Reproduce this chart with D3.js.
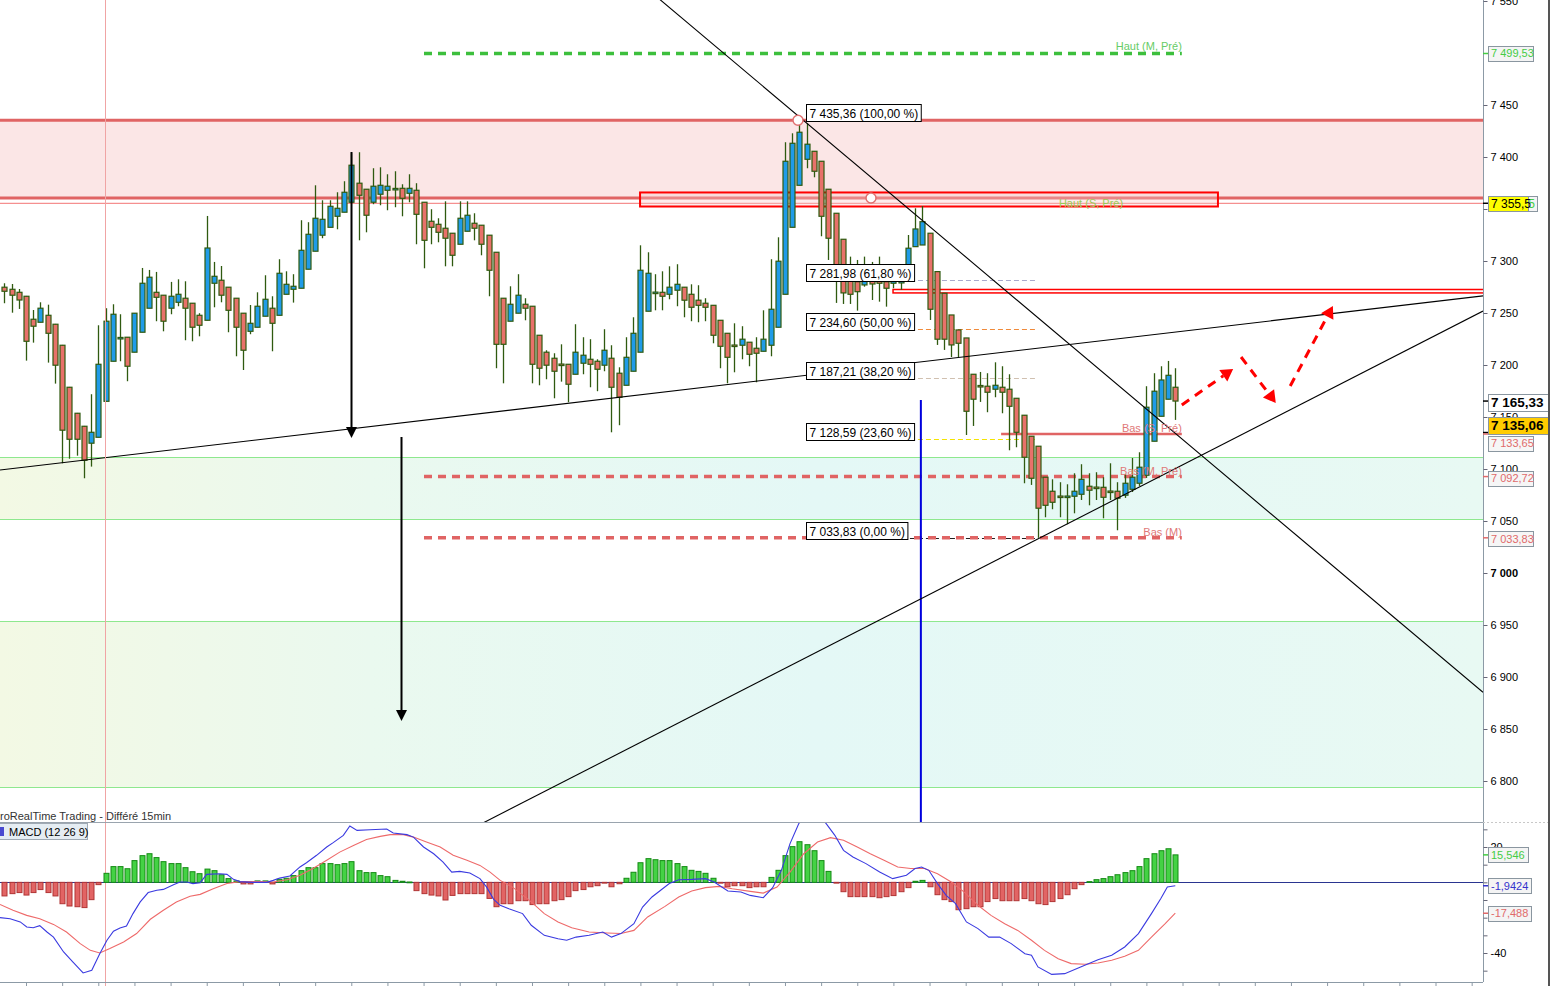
<!DOCTYPE html>
<html><head><meta charset="utf-8">
<script src="https://cdn.jsdelivr.net/npm/d3@7"></script>
<style>
body{margin:0;background:#fff;}
svg{display:block;font-family:Arial,"Liberation Sans",sans-serif;}
</style>
</head><body>
<svg id="chart" width="1550" height="986"></svg>
<script>
// ---------------- DATA ----------------
const candleOpen = [
7274.8,7272.8,7269.9,7266.1,7244.0,7241.1,7247.8,7239.2,7219.0,7178.6,
7153.6,7141.1,7124.8,7130.5,7165.1,7203.6,7226.0,7226.7,7212.3,7231.5,
7254.6,7269.9,7267.1,7254.6,7260.3,7264.2,7259.4,7247.8,7243.0,7278.6,
7281.5,7274.8,7264.2,7249.8,7232.4,7236.3,7246.9,7254.6,7247.8,7268.0,
7272.8,7273.8,7292.1,7309.4,7324.8,7332.4,7343.0,7346.9,7356.5,7374.8,
7369.0,7356.5,7364.2,7368.0,7369.6,7369.9,7365.1,7368.0,7356.5,7338.2,
7335.3,7331.5,7326.7,7316.1,7328.6,7336.3,7334.4,7324.8,7308.4,7264.2,
7242.1,7249.8,7258.4,7256.5,7228.6,7212.3,7206.5,7200.9,7200.7,7191.1,
7201.7,7205.5,7203.6,7199.8,7206.5,7192.1,7180.5,7194.0,7212.3,7251.7,
7269.7,7269.9,7268.0,7271.9,7274.8,7268.0,7262.3,7259.4,7257.4,7243.0,
7230.5,7219.2,7219.0,7221.9,7216.1,7213.2,7219.0,7236.3,7268.0,7332.4,
7372.8,7397.8,7405.5,7395.9,7369.0,7345.9,7320.9,7281.8,7280.1,7277.0,
7281.8,7281.8,7280.1,7278.6,7278.9,7284.9,7313.8,7315.4,7326.7,7289.8,
7269.0,7248.1,7233.7,7226.0,7191.1,7180.3,7179.6,7176.7,7178.6,7176.7,
7168.0,7151.7,7131.5,7121.9,7092.1,7078.6,7074.0,7073.6,7073.8,7075.7,
7083.4,7082.6,7082.4,7078.8,7078.6,7074.8,7080.5,7086.3,7094.0,7126.7,
7150.7,7167.1,7178.6];
const candleHigh = [
7278.6,7277.9,7273.1,7266.4,7252.9,7260.3,7258.0,7239.5,7219.3,7178.9,
7153.9,7141.4,7171.9,7238.2,7254.6,7258.4,7248.8,7226.7,7249.8,7293.3,
7291.4,7289.5,7267.1,7279.9,7282.4,7280.5,7259.4,7249.8,7343.3,7299.1,
7295.2,7274.8,7264.2,7249.8,7257.7,7269.9,7286.3,7266.1,7301.7,7290.1,
7287.3,7339.2,7337.3,7372.8,7358.4,7358.4,7366.1,7376.7,7403.6,7404.6,
7369.0,7389.2,7390.1,7383.4,7386.3,7373.8,7383.4,7374.8,7356.5,7349.8,
7341.1,7357.4,7326.7,7357.4,7357.4,7345.9,7334.4,7324.8,7308.4,7264.2,
7275.7,7287.3,7264.2,7256.5,7228.6,7214.2,7211.3,7219.9,7200.7,7239.2,
7226.7,7224.8,7205.5,7234.4,7219.0,7197.8,7226.7,7245.9,7315.1,7308.4,
7287.3,7290.1,7294.9,7296.9,7274.8,7277.6,7276.7,7264.2,7257.4,7243.0,
7230.5,7240.1,7237.3,7221.9,7226.7,7252.6,7301.7,7322.8,7414.2,7422.8,
7435.36,7432.4,7405.5,7395.9,7369.0,7345.9,7320.9,7304.2,7301.0,7304.2,
7299.1,7304.2,7294.6,7294.6,7293.3,7325.0,7350.7,7352.9,7326.7,7289.8,
7269.0,7248.1,7233.7,7226.0,7191.1,7193.3,7192.1,7202.6,7198.8,7191.1,
7168.0,7151.7,7131.5,7121.9,7092.1,7090.1,7087.3,7085.3,7095.9,7104.6,
7095.9,7096.9,7092.1,7105.5,7087.3,7094.9,7110.6,7116.1,7179.6,7192.1,
7198.8,7203.9,7196.9];
const candleLow = [
7259.4,7250.3,7253.9,7204.2,7221.5,7241.1,7202.3,7182.1,7105.5,7109.9,
7112.8,7091.1,7102.3,7130.5,7165.1,7203.6,7203.6,7184.4,7212.3,7231.5,
7254.6,7242.1,7232.4,7248.8,7256.5,7223.8,7222.8,7227.6,7243.0,7255.5,
7260.3,7231.5,7208.4,7195.2,7229.6,7236.3,7246.9,7213.2,7247.8,7268.0,
7260.0,7273.8,7292.1,7309.4,7321.9,7332.4,7330.5,7346.9,7356.5,7319.9,
7327.6,7354.6,7353.6,7348.8,7351.7,7343.0,7356.5,7316.1,7293.0,7316.1,
7318.0,7294.9,7294.9,7316.1,7328.6,7319.9,7305.5,7266.1,7196.9,7182.4,
7242.1,7249.8,7243.0,7182.4,7180.5,7186.3,7168.0,7184.0,7164.2,7191.1,
7191.1,7178.6,7174.8,7194.0,7135.3,7142.1,7180.5,7194.0,7212.3,7251.7,
7252.6,7252.6,7263.2,7256.5,7245.9,7242.1,7241.1,7242.1,7220.9,7196.9,
7182.4,7193.0,7205.5,7198.8,7183.4,7213.2,7208.4,7236.3,7268.0,7332.4,
7372.8,7389.2,7380.5,7323.8,7301.0,7259.7,7258.7,7258.7,7252.3,7275.3,
7262.5,7260.9,7256.1,7273.8,7272.2,7284.9,7313.8,7315.4,7243.3,7219.3,
7214.5,7207.7,7207.7,7132.7,7141.4,7164.5,7154.6,7169.0,7153.6,7118.0,
7120.9,7086.3,7084.7,7033.83,7053.6,7061.3,7053.6,7046.9,7057.4,7070.2,
7065.1,7070.2,7052.6,7070.2,7041.1,7072.2,7077.9,7083.7,7091.4,7126.7,
7150.7,7167.1,7147.2];
const candleClose = [
7270.9,7267.1,7262.5,7222.8,7237.3,7254.6,7230.5,7199.8,7137.3,7128.6,
7128.6,7108.4,7135.3,7200.7,7242.1,7248.8,7226.5,7198.8,7249.8,7278.6,
7284.4,7265.1,7242.1,7266.1,7268.0,7254.6,7236.3,7238.2,7312.5,7285.3,
7267.1,7252.6,7236.3,7214.2,7240.1,7256.5,7263.2,7240.1,7288.2,7277.6,
7275.7,7310.3,7325.7,7341.1,7340.1,7352.6,7350.7,7366.1,7392.1,7363.2,
7344.0,7371.9,7372.8,7371.9,7369.8,7360.3,7369.9,7344.9,7319.9,7332.4,
7327.6,7321.9,7305.5,7341.1,7344.0,7331.5,7316.1,7291.1,7219.9,7219.9,
7258.4,7267.1,7254.6,7200.7,7196.9,7199.8,7194.0,7200.5,7181.5,7212.3,
7209.4,7200.7,7195.9,7214.2,7178.6,7169.0,7207.4,7230.5,7291.1,7288.2,
7270.1,7266.1,7274.8,7277.6,7262.3,7255.5,7257.4,7255.5,7228.6,7218.0,
7207.4,7218.8,7224.8,7210.3,7211.3,7224.8,7253.6,7299.8,7395.9,7413.2,
7423.8,7412.3,7386.3,7343.0,7321.9,7281.8,7269.3,7268.0,7270.5,7281.8,
7277.9,7278.6,7273.8,7281.8,7284.9,7312.3,7330.8,7337.8,7253.6,7224.8,
7224.8,7219.3,7220.9,7155.5,7167.1,7179.9,7173.8,7180.5,7173.8,7160.3,
7135.3,7111.3,7091.1,7062.3,7065.1,7068.0,7073.6,7074.0,7078.6,7090.1,
7079.6,7082.2,7072.8,7078.4,7071.9,7086.3,7092.1,7101.7,7159.4,7174.8,
7185.6,7190.1,7165.33];

const macdHist = [
-7.7,-6.4,-5.8,-7.2,-5.8,-4.1,-5.8,-7.7,-12.1,-13.4,-13.8,-14.3,-9.8,-1.3,
5.1,8.9,8.9,7.7,12.3,15.1,16.2,14.0,11.7,10.6,10.6,8.3,6.0,4.9,7.5,6.6,4.3,2.1,0.8,
-0.9,-0.9,0.8,0.8,-0.9,
1.7,2.3,3.8,6.6,8.3,8.3,10.6,10.6,10.0,10.6,11.7,6.6,5.5,5.5,3.8,3.2,1.1,0.6,0.2,
-4.7,-6.4,-7.2,-7.7,-10.0,-7.4,-6.4,-6.4,-6.4,-6.4,-9.1,-13.8,
-12.1,-12.1,-10.4,-10.4,-12.6,-12.1,-12.1,-10.4,-9.8,-8.1,-4.7,-4.1,-2.5,-1.9,-0.3,-2.5,-0.8,
2.3,5.7,11.1,13.4,12.8,12.3,12.3,10.6,8.9,6.8,6.2,5.1,2.3,
-0.3,
-2.5,-1.9,-1.9,-3.0,-2.5,-2.5,
2.8,6.8,15.1,20.2,23.0,21.3,17.9,12.3,6.2,
-0.3,
-5.3,-8.1,-8.1,-8.1,-8.1,-8.7,-8.1,-7.5,-5.3,-3.0,
0.6,1.1,
-2.5,-7.0,-9.8,-10.9,-15.5,-14.9,-13.8,-13.8,-10.9,-9.2,-10.4,-10.4,-10.4,-9.2,-10.4,-12.1,-12.6,-10.9,-9.2,-7.0,-3.6,-1.3,
0.4,1.5,2.1,3.2,4.3,5.5,6.6,8.9,13.4,16.2,17.9,19.0,15.546];

// MACD line [candle index, value]
const macdLine = [[-0.6,-20.0],[0.8,-20.6],[2.2,-22.4],[3.1,-25.3],[4.0,-25.7],[4.9,-24.5],[5.9,-28.1],[6.8,-31.0],[8.2,-39.4],[9.5,-45.1],[10.9,-51.3],[12.1,-49.8],[13.2,-40.4],[14.2,-32.8],[15.1,-27.7],[16.0,-25.8],[16.9,-24.7],[17.8,-17.7],[18.8,-11.1],[19.9,-5.8],[21.1,-4.5],[22.0,-4.0],[23.4,-1.3],[24.3,0.2],[25.2,0.2],[26.1,-0.7],[27.1,-0.2],[28.0,4.5],[29.8,4.9],[30.8,4.5],[31.7,1.7],[32.6,0.4],[34.4,0],[36.3,0],[37.2,1.1],[38.1,2.4],[39.5,3.6],[40.9,8.7],[41.8,11.1],[43.2,15.3],[44.6,20.0],[45.5,22.5],[46.9,26.6],[47.8,31.9],[48.8,29.4],[50.6,29.8],[52.9,30.2],[53.8,27.9],[55.7,27.0],[56.6,25.6],[58.0,20.0],[59.4,16.2],[60.7,11.5],[61.9,5.8],[63.0,6.2],[64.4,5.3],[65.8,2.1],[66.7,-2.6],[67.7,-9.6],[68.6,-13.0],[69.8,-14.9],[71.7,-17.7],[72.9,-24.3],[74.7,-30.0],[76.6,-31.9],[77.8,-32.8],[79.1,-31.0],[80.9,-30.0],[82.8,-28.1],[84.0,-31.0],[85.3,-29.0],[87.1,-23.4],[88.3,-14.0],[89.6,-8.3],[90.8,-4.5],[92.0,-0.7],[93.3,1.5],[95.1,1.7],[97.0,2.1],[98.2,0.2],[100.1,-4.9],[101.9,-5.5],[103.2,-7.4],[105.0,-8.7],[106.3,-3.0],[107.5,6.8],[108.7,21.9],[109.9,33.2],[111.0,39.0],[112.5,39.0],[113.7,33.2],[114.9,26.6],[116.1,18.1],[117.4,14.3],[119.2,10.6],[121.1,5.8],[122.9,2.1],[124.8,4.0],[126.0,7.8],[126.9,8.7],[127.9,6.8],[129.1,-0.7],[130.3,-7.4],[131.6,-12.1],[133.1,-22.4],[134.7,-26.2],[136.2,-31.0],[137.7,-31.0],[139.3,-34.7],[141.2,-40.4],[142.1,-41.3],[143.0,-47.9],[144.9,-52.1],[146.7,-51.7],[148.9,-47.9],[151.3,-43.8],[153.2,-41.3],[155.0,-36.6],[156.9,-29.0],[158.7,-17.7],[160.0,-9.2],[160.9,-2.6],[162,-1.9424]];
const signalLine = [[-0.6,-12.5],[1.2,-15.8],[3.1,-18.7],[4.9,-20.6],[6.8,-23.8],[8.6,-28.1],[10.5,-34.7],[11.9,-38.5],[13.2,-40.0],[14.6,-37.5],[16.5,-33.8],[18.3,-29.0],[20.2,-20.9],[22.0,-15.8],[23.8,-11.1],[25.7,-7.9],[27.1,-6.8],[28.9,-3.6],[30.8,-0.7],[32.6,0.4],[35.4,0.4],[37.2,0.2],[39.1,1.5],[40.9,4.0],[42.7,7.8],[44.6,12.5],[46.4,17.1],[48.3,20.9],[50.1,24.2],[52.0,26.0],[53.4,27.0],[55.2,27.0],[56.6,25.6],[58.4,22.8],[60.3,20.0],[62.1,15.3],[64.0,12.5],[65.8,9.6],[67.2,5.8],[68.6,1.1],[70.4,-3.0],[72.9,-11.1],[74.7,-17.7],[76.6,-22.4],[78.5,-25.7],[80.9,-28.1],[83.4,-28.7],[85.3,-29.0],[87.1,-27.2],[89.0,-19.6],[91.4,-13.6],[93.3,-8.3],[95.1,-4.9],[97.0,-3.0],[98.9,-2.3],[100.7,-3.6],[103.2,-5.1],[105.0,-6.1],[106.9,-2.7],[108.7,5.8],[110.6,16.2],[112.5,22.8],[114.3,25.3],[116.1,23.8],[118.0,20.0],[119.8,16.2],[121.7,12.5],[123.6,8.7],[125.4,7.8],[127.3,7.8],[129.1,4.9],[131.0,0.2],[132.8,-5.5],[134.7,-13.0],[136.5,-18.7],[138.4,-23.4],[140.2,-27.2],[142.1,-32.8],[143.9,-38.5],[145.8,-43.2],[147.6,-46.0],[149.5,-46.4],[151.3,-45.7],[153.2,-44.1],[155.0,-41.9],[156.9,-38.5],[158.7,-31.0],[160.6,-23.4],[162,-17.488]];

const priceTicks = [6800,6850,6900,6950,7000,7050,7100,7150,7200,7250,7300,7350,7400,7450,7500,7550];
const hiddenTickLabels = [7500,7350];
const macdTicks = [30,20,10,0,-10,-20,-30,-40,-50];
const macdTickLabels = [20,-40];

const fibValues = [7435.36,7281.98,7234.60,7187.21,7128.59,7033.83];
const fibPercents = [100,61.8,50,38.2,23.6,0];

const zoneResistance = [7360.6,7435.36];
const zoneSupport1 = [7052.0,7111.1];
const zoneSupport2 = [6794.3,6953.4];
const levelNames = ["Haut (M, Pré)","Haut (S, Pré)","Bas (S, Pré)","Bas (M, Pré)","Bas (M)"];
const levelValues = [7499.53,7355.5,7133.65,7092.72,7033.83];
const boxSP = [7352.4,7365.9];
const doubleLine = [7269.3,7272.6];

const priceTagValues = [7499.53,7355.5,7165.33,7135.06,7133.65,7092.72,7033.83];
const priceTagDigits = [2,1,2,2,2,2,2];
const macdTagValues = [15.546,-1.9424,-17.488];
const macdTagDigits = [3,4,3];

// trendlines: two anchor points [index, price]
const trendDown = [[110,7438.5],[162,7134.3]];
const trendSupport = [[11,7108.5],[162,7231.7]];
const trendRise = [[143,7032.8],[162,7100.4]];
// annotation arrows [index, from price, to price]
const blackArrows = [[48,7404.8,7129.9],[54.9,7130.8,6857.7]];
const scenarioArrows = [[[162.9,7161.6],[170.0,7196.2]],[[171.1,7207.7],[175.9,7163.5]],[[177.9,7179.8],[183.8,7256.8]]];
const markerPoints = [[109.8,7435.36],[119.9,7360.6]];

// ---------------- LAYOUT ----------------
const N = candleOpen.length;
const AX = 1483, MAIN_B = 822, MACD_B = 982;
const svg = d3.select("#chart");
const x = d3.scaleLinear().domain([0,162]).range([4.33,1175.3]);
const y = d3.scaleLinear().domain([7000,7550]).range([573,1]);
const ym = d3.scaleLinear().domain([-40,20]).range([953,847]);
const loc = d3.formatLocale({decimal:",",thousands:" ",grouping:[3],currency:["",""],minus:"-"});
const fmtP = d => loc.format(",."+d+"f");

const defs = svg.append("defs");
defs.append("clipPath").attr("id","cm").append("rect").attr("x",0).attr("y",0).attr("width",AX).attr("height",MAIN_B);
defs.append("clipPath").attr("id","cd").append("rect").attr("x",0).attr("y",MAIN_B+1).attr("width",AX).attr("height",MACD_B-MAIN_B-1);
const grad = defs.append("linearGradient").attr("id","cy").attr("x1","0").attr("x2","1").attr("y1","0").attr("y2","0");
[["0%","#f3f9e4"],["25%","#eaf9ef"],["55%","#e4f8f6"],["100%","#e8f9f3"]].forEach(s=>grad.append("stop").attr("offset",s[0]).attr("stop-color",s[1]));

svg.append("rect").attr("width",1550).attr("height",986).attr("fill","#fff");

const gm = svg.append("g").attr("clip-path","url(#cm)");

// zones
function zone(vals, fill){
  gm.append("rect").attr("x",0).attr("width",AX).attr("y",y(vals[1])).attr("height",y(vals[0])-y(vals[1])).attr("fill",fill);
}
zone(zoneResistance,"#fbe6e6");
zone(zoneSupport1,"url(#cy)");
zone(zoneSupport2,"url(#cy)");
[zoneSupport1,zoneSupport2].forEach(z=>z.forEach(v=>{
  gm.append("line").attr("x1",0).attr("x2",AX).attr("y1",Math.round(y(v))+0.5).attr("y2",Math.round(y(v))+0.5).attr("stroke","#8ee88e").attr("stroke-width",1);
}));
zoneResistance.forEach(v=>{
  gm.append("line").attr("x1",0).attr("x2",AX).attr("y1",y(v)).attr("y2",y(v)).attr("stroke","#e06464").attr("stroke-width",3);
});
gm.append("line").attr("x1",0).attr("x2",AX).attr("y1",y(levelValues[1])).attr("y2",y(levelValues[1])).attr("stroke","#f59090").attr("stroke-width",1.2);

// red box (S, Pré)
gm.append("rect").attr("x",x(87.95)).attr("width",x(167.9)-x(87.95)).attr("y",y(boxSP[1])).attr("height",y(boxSP[0])-y(boxSP[1]))
  .attr("fill","rgba(250,200,200,0.35)").attr("stroke","#ff0000").attr("stroke-width",2);

// fib dashed lines
const fibColors = [null,"#a9a9cc","#f08a3a","#d0c0b0","#f4e400","#222"];
fibValues.forEach((v,k)=>{
  if(!fibColors[k]) return;
  gm.append("line").attr("x1",x(110.9)).attr("x2",x(142.7)).attr("y1",Math.round(y(v))+0.5).attr("y2",Math.round(y(v))+0.5)
    .attr("stroke",fibColors[k]).attr("stroke-width",1).attr("stroke-dasharray","5,3");
});

// dashed level lines
function dashed(v,color,i0,i1){
  gm.append("line").attr("x1",x(i0)).attr("x2",x(i1)).attr("y1",y(v)).attr("y2",y(v))
    .attr("stroke",color).attr("stroke-width",3.5).attr("stroke-dasharray","8,6");
}
dashed(levelValues[0],"#3dbf3d",58.06,162.9);
dashed(levelValues[3],"#e06464",58.06,162.9);
dashed(levelValues[4],"#e06464",58.06,162.9);
gm.append("line").attr("x1",x(137.9)).attr("x2",x(162.9)).attr("y1",y(levelValues[2])).attr("y2",y(levelValues[2])).attr("stroke","#e06464").attr("stroke-width",2.5);

// double red line
gm.append("rect").attr("x",x(122.95)).attr("width",AX-x(122.95)+2).attr("y",y(doubleLine[1])).attr("height",y(doubleLine[0])-y(doubleLine[1]))
  .attr("fill","#fff").attr("stroke","#ff0000").attr("stroke-width",1.5);

// vertical lines
svg.append("line").attr("x1",105.5).attr("x2",105.5).attr("y1",0).attr("y2",986).attr("stroke","#f0a4a4").attr("stroke-width",1);
gm.append("line").attr("x1",x(126.8)).attr("x2",x(126.8)).attr("y1",y(7166.4)).attr("y2",MAIN_B).attr("stroke","#0000dd").attr("stroke-width",2);

// candles
const candles = d3.range(N).map(i=>({i,o:candleOpen[i],h:candleHigh[i],l:candleLow[i],c:candleClose[i]}));
const gc = gm.append("g");
gc.selectAll("line").data(candles).join("line")
  .attr("x1",d=>Math.round(x(d.i))+0.5).attr("x2",d=>Math.round(x(d.i))+0.5)
  .attr("y1",d=>y(d.h)).attr("y2",d=>y(d.l)).attr("stroke","#2f5a10").attr("stroke-width",1.3);
gc.selectAll("rect").data(candles).join("rect")
  .attr("x",d=>Math.round(x(d.i))-2).attr("width",5)
  .attr("y",d=>y(Math.max(d.o,d.c))).attr("height",d=>Math.max(1.5,Math.abs(y(d.o)-y(d.c))))
  .attr("fill",d=>d.c>=d.o?"#1f9be8":"#e8716a").attr("stroke","#2f5a10").attr("stroke-width",1.2);

// trendlines
function trend(a){
  const x1=x(a[0][0]),y1=y(a[0][1]),x2=x(a[1][0]),y2=y(a[1][1]);
  const s=(y2-y1)/(x2-x1);
  gm.append("line").attr("x1",0).attr("y1",y1-s*x1).attr("x2",AX).attr("y2",y1+s*(AX-x1)).attr("stroke","#000").attr("stroke-width",1.1);
}
[trendDown,trendSupport,trendRise].forEach(trend);

function head(g,x1,y1,x2,y2,len,half,color){
  const dx=x2-x1,dy=y2-y1,L=Math.hypot(dx,dy),ux=dx/L,uy=dy/L;
  const bx=x2-ux*len,by=y2-uy*len;
  g.append("polygon").attr("points",[[x2,y2],[bx-uy*half,by+ux*half],[bx+uy*half,by-ux*half]].map(p=>p.join(",")).join(" ")).attr("fill",color);
  return [bx,by];
}
blackArrows.forEach(a=>{
  const X=Math.round(x(a[0]))+0.5, Y1=y(a[1]), Y2=y(a[2]);
  const b=head(gm,X,Y1,X,Y2,11,5.5,"#000");
  gm.append("line").attr("x1",X).attr("x2",X).attr("y1",Y1).attr("y2",b[1]).attr("stroke","#000").attr("stroke-width",2);
});
scenarioArrows.forEach(a=>{
  const x1=x(a[0][0]),y1=y(a[0][1]),x2=x(a[1][0]),y2=y(a[1][1]);
  const b=head(gm,x1,y1,x2,y2,12,7,"#ff0000");
  gm.append("line").attr("x1",x1).attr("y1",y1).attr("x2",b[0]).attr("y2",b[1]).attr("stroke","#ff0000").attr("stroke-width",3).attr("stroke-dasharray","9,7");
});
markerPoints.forEach(p=>{
  gm.append("circle").attr("cx",x(p[0])).attr("cy",y(p[1])).attr("r",5).attr("fill","#fff").attr("stroke","#e07070").attr("stroke-width",1.5);
});

// level names
const lblStyle=[["#6c6","end",162.9,-3],["#9c5","start",145.9,4],["#e07878","end",162.9,-2],["#e07878","end",162.9,-2],["#e07878","end",162.9,-2]];
levelNames.forEach((t,k)=>{
  const st=lblStyle[k];
  gm.append("text").attr("x",x(st[2])).attr("y",y(levelValues[k])+st[3]).attr("text-anchor",st[1]).attr("fill",st[0]).attr("font-size",11).text(t);
});

// fib boxes
fibValues.forEach((v,k)=>{
  const txt=fmtP(2)(v)+" ("+fmtP(2)(fibPercents[k])+" %)";
  const bx=Math.round(x(110.9))+0.5, by=Math.round(y(v))+1.5;
  const g=gm.append("g");
  const r=g.append("rect").attr("x",bx).attr("y",by-17).attr("height",17).attr("fill","#fff").attr("stroke","#000").attr("stroke-width",1);
  const t=g.append("text").attr("x",bx+3).attr("y",by-4).attr("font-size",12).attr("fill","#000").text(txt);
  r.attr("width",t.node().getComputedTextLength()+6);
});

// price axis
svg.append("line").attr("x1",AX+0.5).attr("x2",AX+0.5).attr("y1",0).attr("y2",MACD_B).attr("stroke","#8c9aa6");
const ay=svg.append("g").attr("transform",`translate(${AX+0.5},0)`)
  .call(d3.axisRight(y).tickValues(priceTicks).tickSize(4).tickPadding(3).tickFormat(d=>hiddenTickLabels.includes(d)?"":fmtP(0)(d)));
ay.select(".domain").remove();
ay.selectAll("line").attr("stroke","#667");
ay.selectAll("text").attr("font-size",11).attr("font-family","Arial,'Liberation Sans',sans-serif").attr("fill","#000")
  .attr("font-weight",d=>d===7000?"bold":"normal");

// price tags
const tagStyle=[
 {fg:"#4c4",bg:"#f4f4f4",fs:11,fw:"normal",w:45,dy:0},
 {fg:"#000",bg:"#ffff00",fs:12,fw:"normal",w:40,dy:0},
 {fg:"#000",bg:"#fff",fs:13.5,fw:"bold",w:60,dy:1},
 {fg:"#000",bg:"#ffcc00",fs:13.5,fw:"bold",w:60,dy:-7},
 {fg:"#e06a6a",bg:"#f6f6f6",fs:11,fw:"normal",w:45,dy:9.5},
 {fg:"#e06a6a",bg:"#f6f6f6",fs:11,fw:"normal",w:45,dy:1.5},
 {fg:"#e06a6a",bg:"#f6f6f6",fs:11,fw:"normal",w:45,dy:1}
];
function tag(Y,txt,st,extraX){
  const h=st.fs>12?17:15;
  const g=svg.append("g");
  g.append("rect").attr("x",AX+5.5+(extraX||0)).attr("y",Math.round(Y-h/2)+0.5).attr("width",st.w).attr("height",h)
    .attr("fill",st.bg).attr("stroke","#8a96a0").attr("stroke-width",1);
  g.append("text").attr("x",AX+8+(extraX||0)).attr("y",Y+st.fs*0.36).attr("font-size",st.fs).attr("font-weight",st.fw).attr("fill",st.fg).text(txt);
}
// green duplicate behind yellow tag
tag(y(priceTagValues[1]),fmtP(1)(priceTagValues[1]),{fg:"#4c4",bg:"#f4f4f4",fs:12,fw:"normal",w:45,dy:0},4);
priceTagValues.forEach((v,k)=>{
  const st=tagStyle[k];
  svg.append("line").attr("x1",AX).attr("x2",AX+5).attr("y1",y(v)).attr("y2",y(v)).attr("stroke",st.fg==="#000"?"#000":st.fg).attr("stroke-width",1.5);
  tag(y(v)+st.dy,fmtP(priceTagDigits[k])(v),st);
});

// ---------------- MACD PANEL ----------------
svg.append("line").attr("x1",0).attr("x2",AX).attr("y1",MAIN_B+0.5).attr("y2",MAIN_B+0.5).attr("stroke","#9aa4ae");
svg.append("line").attr("x1",AX).attr("x2",1548).attr("y1",MAIN_B+0.5).attr("y2",MAIN_B+0.5).attr("stroke","#c8c8c8").attr("stroke-dasharray","2,2");
svg.append("text").attr("x",0).attr("y",820).attr("font-size",11).attr("fill","#333").text("roRealTime Trading - Différé 15min");
const gd=svg.append("g").attr("clip-path","url(#cd)");
gd.append("line").attr("x1",0).attr("x2",AX).attr("y1",Math.round(ym(0))+0.5).attr("y2",Math.round(ym(0))+0.5).attr("stroke","#2a3590").attr("stroke-width",1);
gd.selectAll("rect.h").data(macdHist.map((v,i)=>({i,v}))).join("rect")
  .attr("x",d=>Math.round(x(d.i))-2).attr("width",5)
  .attr("y",d=>ym(Math.max(0,d.v))).attr("height",d=>Math.max(0.8,Math.abs(ym(d.v)-ym(0))))
  .attr("fill",d=>d.v>=0?"#44d244":"#e26464").attr("stroke",d=>d.v>=0?"#138a13":"#b03434").attr("stroke-width",1);
const ln=d3.line().x(d=>x(d[0])).y(d=>ym(d[1]));
gd.append("path").attr("d",ln(signalLine)).attr("fill","none").attr("stroke","#ee6a6a").attr("stroke-width",1.1);
gd.append("path").attr("d",ln(macdLine)).attr("fill","none").attr("stroke","#3a3ae0").attr("stroke-width",1.1);

// legend
svg.append("rect").attr("x",-0.5).attr("y",823.5).attr("width",88).attr("height",16).attr("fill","#e5edf3").attr("stroke","#a0aab4");
svg.append("rect").attr("x",0).attr("y",827).attr("width",4).attr("height",9).attr("fill","#4a4ad0");
svg.append("text").attr("x",9).attr("y",836).attr("font-size",11).attr("fill","#000").text("MACD (12 26 9)");

// MACD axis
const am=svg.append("g").attr("transform",`translate(${AX+0.5},0)`)
  .call(d3.axisRight(ym).tickValues(macdTicks).tickSize(4).tickPadding(3).tickFormat(d=>macdTickLabels.includes(d)?loc.format("d")(d):""));
am.select(".domain").remove();
am.selectAll("line").attr("stroke","#667");
am.selectAll("text").attr("font-size",11).attr("font-family","Arial,'Liberation Sans',sans-serif").attr("fill","#000");
const mtagColors=["#44cc44","#3333cc","#e06a6a"];
macdTagValues.forEach((v,k)=>{
  svg.append("line").attr("x1",AX).attr("x2",AX+5).attr("y1",ym(v)).attr("y2",ym(v)).attr("stroke",mtagColors[k]).attr("stroke-width",1.5);
  tag(ym(v),fmtP(macdTagDigits[k])(v),{fg:mtagColors[k],bg:"#f4f4f4",fs:11,fw:"normal",w:k===0?40:43,dy:0});
});

// bottom axis
svg.append("line").attr("x1",0).attr("x2",AX).attr("y1",MACD_B+0.5).attr("y2",MACD_B+0.5).attr("stroke","#8c9aa6");
const ax=svg.append("g").attr("transform",`translate(0,${MACD_B+0.5})`)
  .call(d3.axisBottom(x).tickValues(d3.range(3,205,5)).tickSize(4).tickFormat(""));
ax.select(".domain").remove();
ax.selectAll("line").attr("stroke","#8c9aa6");

// right border
svg.append("rect").attr("x",1548).attr("y",0).attr("width",2).attr("height",986).attr("fill","#555");
</script>
</body></html>
